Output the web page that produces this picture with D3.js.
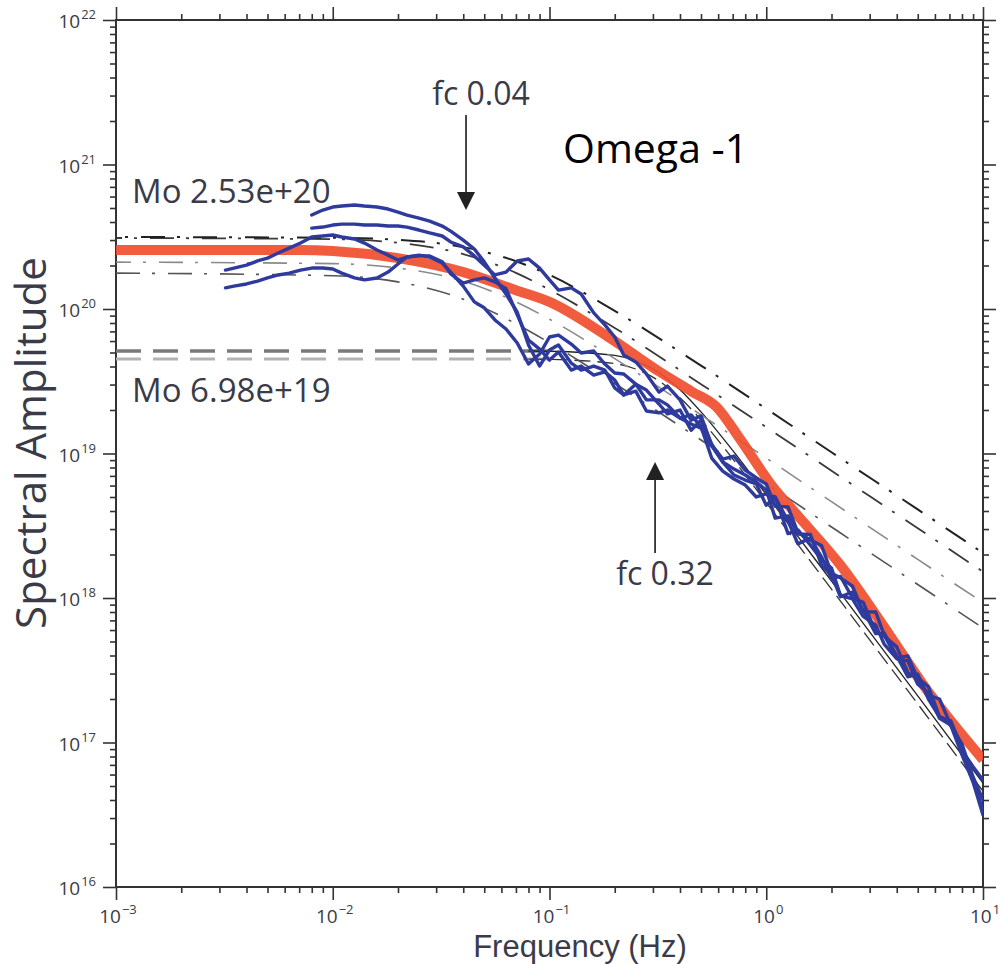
<!DOCTYPE html>
<html><head><meta charset="utf-8">
<script src="https://cdn.jsdelivr.net/npm/d3@7"></script>
<style>body{margin:0;background:#fff}svg{display:block}</style>
</head><body><svg id="c" width="1002" height="964"></svg>
<script>
// ---------- data ----------
const freqs = [0.0032,0.0035,0.004,0.0045,0.005,0.0056,0.0063,0.0071,0.008,0.009,
 0.01,0.011,0.0126,0.014,0.016,0.018,0.02,0.022,0.025,0.028,
 0.032,0.035,0.04,0.045,0.05,0.056,0.063,0.071,0.08,0.09,
 0.1,0.11,0.126,0.14,0.16,0.18,0.2,0.22,0.25,0.28,
 0.32,0.35,0.4,0.45,0.5,0.56,0.63,0.71,0.8,0.9,
 1,1.1,1.26,1.4,1.6,1.8,2,2.2,2.5,2.8,
 3.2,3.5,4,4.5,5,5.6,6.3,7.1,8,9,
 10];
const spectrumA = [null,null,null,null,null,null,null,null,4.47e20,4.84e20,
 5.08e20,5.16e20,5.25e20,5.16e20,5.08e20,4.92e20,4.69e20,4.47e20,4.26e20,4.06e20,
 3.75e20,3.46e20,3.0e20,2.6e20,2.12e20,1.64e20,1.27e20,9.5e19,5.63e19,4.03e19,
 5.2e19,5.63e19,4.22e19,3.78e19,4.03e19,3.78e19,2.84e19,2.54e19,3.02e19,2.75e19,
 2.2e19,1.88e19,2.0e19,1.45e19,1.7e19,1.16e19,8.73e18,7.8e18,7.1e18,6.35e18,
 5.59e18,3.57e18,3.7e18,2.77e18,2.75e18,1.68e18,1.44e18,1.02e18,1.1e18,8.26e17,
 5.67e17,5.73e17,3.97e17,2.85e17,2.97e17,2.0e17,1.5e17,1.41e17,9.15e16,5.4e16,
 3.41e16];
const spectrumB = [1.86e20,1.92e20,2.01e20,2.15e20,2.25e20,2.44e20,2.64e20,2.86e20,3.15e20,3.2e20,
 3.25e20,3.15e20,3.05e20,2.86e20,2.56e20,2.36e20,2.18e20,2.29e20,2.36e20,2.29e20,
 2.08e20,1.8e20,1.44e20,1.12e20,1.02e20,8.4e19,7.27e19,5.82e19,4.16e19,4.88e19,
 6.4e19,6.6e19,5.72e19,4.96e19,5.12e19,4.16e19,3.61e19,3.55e19,3.02e19,2.35e19,
 2.35e19,2.17e19,1.76e19,1.6e19,1.5e19,1.13e19,8.73e18,7.1e18,6.55e18,6.15e18,
 4.38e18,5.0e18,3.41e18,2.37e18,2.6e18,1.92e18,1.36e18,1.41e18,1.0e18,9.35e17,
 5.81e17,5.46e17,4.59e17,3.04e17,2.8e17,2.43e17,1.51e17,1.39e17,8.8e16,6.8e16,
 5.5e16];
const spectrumC = [null,null,null,null,null,null,null,null,3.63e20,3.69e20,
 3.81e20,3.87e20,3.87e20,3.81e20,3.81e20,3.75e20,3.75e20,3.69e20,3.52e20,3.36e20,
 3.2e20,2.91e20,2.69e20,2.33e20,2.01e20,1.72e20,1.8e20,2.15e20,2.22e20,1.92e20,
 1.59e20,1.35e20,1.4e20,1.27e20,9.4e19,7.76e19,6.4e19,4.8e19,4.3e19,3.55e19,
 2.66e19,2.93e19,2.35e19,1.7e19,1.82e19,1.15e19,9.15e18,9.6e18,7.68e18,6.77e18,
 6.15e18,4.31e18,4.27e18,2.84e18,2.52e18,2.31e18,1.48e18,1.38e18,1.21e18,8.04e17,
 8.0e17,5.53e17,3.85e17,3.97e17,2.78e17,2.12e17,2.0e17,1.32e17,9.76e16,5.77e16,
 4.0e16];
const spectrumD = [1.4e20,1.44e20,1.49e20,1.56e20,1.64e20,1.72e20,1.77e20,1.86e20,1.92e20,1.92e20,
 1.89e20,1.77e20,1.64e20,1.59e20,1.64e20,1.8e20,2.05e20,2.29e20,2.33e20,2.33e20,
 2.12e20,1.75e20,1.51e20,1.59e20,1.64e20,1.54e20,1.38e20,9.1e19,6.1e19,5.28e19,
 4.43e19,5.04e19,3.78e19,4.03e19,3.49e19,3.67e19,3.22e19,2.54e19,2.7e19,1.97e19,
 1.91e19,2.0e19,1.76e19,1.85e19,1.53e19,9.3e18,7.56e18,6.66e18,6.05e18,5.0e18,
 5.25e18,4.99e18,2.79e18,2.96e18,2.32e18,1.84e18,1.61e18,1.04e18,9.87e17,7.45e17,
 6.49e17,4.8e17,3.8e17,3.67e17,2.53e17,2.21e17,1.47e17,1.32e17,8.2e16,5.33e16,
 3.15e16];

const redFreq = [0.001,0.0071,0.01,0.02,0.04,0.07,0.1,0.19,0.32,0.45,0.59,0.76,1.07,1.39,2.19,3.72,5.52,7.28,10];
const redAmp  = [2.56e20,2.56e20,2.52e20,2.25e20,1.80e20,1.35e20,1.12e20,6.3e19,3.7e19,2.7e19,2.1e19,1.25e19,5.9e18,3.75e18,1.7e18,5.5e17,2.3e17,1.35e17,7.6e16];

// omega^-1 model curves (dash-dot)
const omega1Freq = [0.001,0.01,0.02,0.04,0.07,0.1,0.2,0.5,1,2,5,10];
const omega1A = [3.15e20,3.11e20,3.01e20,2.68e20,2.14e20,1.72e20,9.7e19,4.06e19,2.04e19,1.02e19,4.1e18,2.05e18];
const omega1B = [3.1e20,3.04e20,2.87e20,2.40e20,1.78e20,1.36e20,7.4e19,3.02e19,1.52e19,7.6e18,3.04e18,1.52e18];
const omega1C = [2.11e20,2.06e20,1.92e20,1.56e20,1.12e20,8.5e19,4.53e19,1.85e19,9.3e18,4.64e18,1.85e18,9.3e17];
const omega1D = [1.77e20,1.70e20,1.54e20,1.17e20,7.9e19,5.84e19,3.05e19,1.24e19,6.2e18,3.1e18,1.24e18,6.2e17];

// omega^-2 model curves (thin black) and their Mo level markers (grey dashes)
const omega2Freq = [0.08,0.1,0.2,0.25,0.32,0.4,0.5,0.7,1,2,5,10];
const omega2A = [5.12e19,5.10e19,4.77e19,4.37e19,3.62e19,2.76e19,1.94e19,1.05e19,5.2e18,1.31e18,2.1e17,5.24e16];
const omega2B = [4.5e19,4.48e19,4.19e19,3.84e19,3.18e19,2.43e19,1.71e19,9.2e18,4.57e18,1.15e18,1.85e17,4.6e16];
const markerFreq = [0.001, 0.1];
const markerLevels = [5.12e19, 4.5e19];

const xTickExps = [-3,-2,-1,0,1];
const yTickExps = [16,17,18,19,20,21,22];
const xTitle = "Frequency (Hz)";
const yTitle = "Spectral Amplitude";
const notes = {omega:"Omega -1", fcLow:"fc 0.04", fcHigh:"fc 0.32", moHigh:"Mo 2.53e+20", moLow:"Mo 6.98e+19"};

// ---------- drawing ----------
const svg = d3.select('#c');
const L=116,R=983,T=20,B=887;
const x = d3.scaleLog().domain([1e-3,1e1]).range([L,R]);
const y = d3.scaleLog().domain([1e16,1e22]).range([B,T]);
const ink = '#333';
const labelInk = '#3b3b48';
const font = "'Open Sans', 'Noto Sans', sans-serif";

svg.append('rect').attr('width',1002).attr('height',964).attr('fill','#fff');
svg.append('clipPath').attr('id','clip').append('rect').attr('x',L).attr('y',T).attr('width',R-L).attr('height',B-T);

function minors(lo,hi){const a=[];for(let e=lo;e<hi;e++)for(let m=2;m<=9;m++)a.push(m*Math.pow(10,e));return a;}
const xMaj = xTickExps.map(e=>Math.pow(10,e));
const yMaj = yTickExps.map(e=>Math.pow(10,e));
const xMin = minors(-3,1), yMin = minors(16,22);

function ax(gen, scale, vals, size, tr){
  svg.append('g').attr('transform',tr)
    .call(gen(scale).tickValues(vals).tickSize(size).tickSizeOuter(0).tickFormat(''))
    .call(g=>{g.select('.domain').remove();g.selectAll('line').attr('stroke',ink).attr('stroke-width',1.6);});
}
ax(d3.axisLeft,y,yMin,6,`translate(${L},0)`);
ax(d3.axisLeft,y,yMaj,13,`translate(${L},0)`);
ax(d3.axisRight,y,yMin,6,`translate(${R},0)`);
ax(d3.axisRight,y,yMaj,13,`translate(${R},0)`);
ax(d3.axisBottom,x,xMin,6,`translate(0,${B})`);
ax(d3.axisBottom,x,xMaj,13,`translate(0,${B})`);
ax(d3.axisTop,x,xMin,6,`translate(0,${T})`);
ax(d3.axisTop,x,xMaj,13,`translate(0,${T})`);

svg.append('rect').attr('x',L).attr('y',T).attr('width',R-L).attr('height',B-T)
  .attr('fill','none').attr('stroke',ink).attr('stroke-width',2);

const sup = e => (e<0 ? '\u2212'+Math.abs(e) : String(e));
yTickExps.forEach(e=>{
  const t = svg.append('text').attr('x',96).attr('y',y(Math.pow(10,e))+8)
    .attr('text-anchor','end').attr('font-family',font).attr('fill',labelInk);
  t.append('tspan').attr('font-size',19).text('10');
  t.append('tspan').attr('font-size',13).attr('dy',-9).attr('dx',1).text(sup(e));
});
xTickExps.forEach(e=>{
  const t = svg.append('text').attr('x',x(Math.pow(10,e))+2).attr('y',923)
    .attr('text-anchor','middle').attr('font-family',font).attr('fill',labelInk);
  t.append('tspan').attr('font-size',19).text('10');
  t.append('tspan').attr('font-size',13).attr('dy',-9).attr('dx',1).text(sup(e));
});

svg.append('text').attr('x',580).attr('y',957).attr('text-anchor','middle')
  .attr('font-family',"'Liberation Sans', Arial, sans-serif").attr('font-size',31).attr('fill',labelInk).text(xTitle);
svg.append('text').attr('transform','translate(46,443) rotate(-90)').attr('text-anchor','middle')
  .attr('font-family',font).attr('font-size',42).attr('fill',labelInk).text(yTitle);

const plot = svg.append('g').attr('clip-path','url(#clip)');
const smooth = d3.line().x(d=>x(d[0])).y(d=>y(d[1])).curve(d3.curveMonotoneX);
const raw = d3.line().defined(d=>d[1]!=null).x(d=>x(d[0])).y(d=>y(d[1])).curve(d3.curveLinear);
const zip = (f,a)=>f.map((v,i)=>[v,a[i]]);

// Mo level markers (grey dashes)
[[markerLevels[1],'#b3b3b3',3],[markerLevels[0],'#7a7a7a',3.6]].forEach(([lv,c,w])=>{
  plot.append('path').attr('d',smooth(markerFreq.map(f=>[f,lv]))).attr('fill','none')
    .attr('stroke',c).attr('stroke-width',w).attr('stroke-dasharray','25,12');
});
// omega^-2 models (thin black)
plot.append('path').attr('d',smooth(zip(omega2Freq,omega2A))).attr('fill','none')
  .attr('stroke','#222').attr('stroke-width',1.3);
plot.append('path').attr('d',smooth(zip(omega2Freq,omega2B))).attr('fill','none')
  .attr('stroke','#333').attr('stroke-width',1.3).attr('stroke-dasharray','16,7');
// omega^-1 dash-dot models
[[omega1D,'#555',1.6],[omega1C,'#8a8a8a',1.6],[omega1B,'#3a3a3a',1.8],[omega1A,'#222',2]].forEach(([arr,c,w],i)=>{
  plot.append('path').attr('d',smooth(zip(omega1Freq,arr))).attr('fill','none')
    .attr('stroke',c).attr('stroke-width',w).attr('stroke-dasharray','24,12,3,13')
    .attr('stroke-dashoffset',i*9);
});
// red model
plot.append('path').attr('d',smooth(zip(redFreq,redAmp))).attr('fill','none')
  .attr('stroke','#f04e2e').attr('stroke-width',10).attr('stroke-opacity',0.92).attr('stroke-linejoin','round');
// blue spectra
[spectrumA,spectrumB,spectrumC,spectrumD].forEach(s=>{
  plot.append('path').attr('d',raw(zip(freqs,s))).attr('fill','none')
    .attr('stroke','#2f3b9c').attr('stroke-width',3.4).attr('stroke-linejoin','round').attr('stroke-linecap','round');
});

// annotations
function arrow(fx, yFrom, yTip){
  const xp = x(fx), y0 = y(yFrom), y1 = y(yTip);
  const dir = y1>y0 ? 1 : -1;
  svg.append('line').attr('x1',xp).attr('x2',xp).attr('y1',y0).attr('y2',y1-dir*12)
    .attr('stroke',ink).attr('stroke-width',1.8);
  svg.append('path').attr('d',`M${xp},${y1} L${xp-9},${y1-dir*18} L${xp+9},${y1-dir*18} Z`).attr('fill','#222');
}
arrow(0.0412, 2.2e21, 4.84e20);
arrow(0.307, 2.05e18, 8.73e18);

const txt = (s,xx,yy,size,fill,anchor)=>svg.append('text').attr('x',xx).attr('y',yy)
  .attr('font-family',font).attr('font-size',size).attr('fill',fill).attr('text-anchor',anchor||'start').text(s);
txt(notes.fcLow,481,105,32,labelInk,'middle');
txt(notes.fcHigh,665,585,32,labelInk,'middle');
txt(notes.moHigh,132,203,33,labelInk);
txt(notes.moLow,132,402,33,labelInk);
txt(notes.omega,563,163,41,'#000');
</script></body></html>
